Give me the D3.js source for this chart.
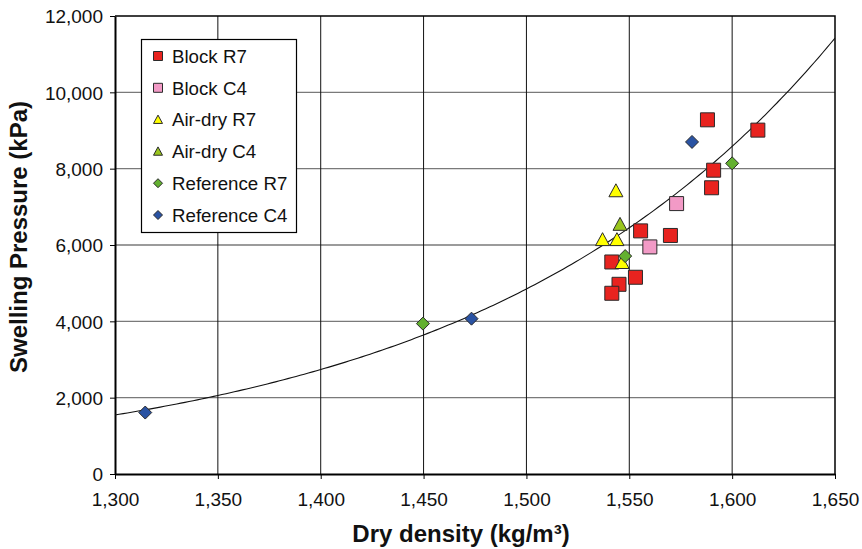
<!DOCTYPE html>
<html>
<head>
<meta charset="utf-8">
<script src="https://cdn.jsdelivr.net/npm/d3@7/dist/d3.min.js"></script>
<style>
  html, body { margin: 0; padding: 0; background: #fff; }
  svg { display: block; font-family: "Liberation Sans", Arial, sans-serif; }
</style>
</head>
<body>
<svg id="chart" width="862" height="549"></svg>
<script>
// Swelling pressure vs dry density, by specimen type
const blockR7 = [
  [1588, 9280], [1612.5, 9010], [1591, 7960], [1590, 7500], [1555.5, 6370],
  [1570, 6250], [1541.5, 5555], [1553, 5155], [1545, 4970], [1541.5, 4735]
];
const blockC4 = [[1573, 7085], [1560, 5950]];
const airDryR7 = [[1543.5, 7420], [1537, 6140], [1544, 6140], [1546.5, 5540]];
const airDryC4 = [[1545.5, 6540]];
const referenceR7 = [[1548, 5710], [1600, 8140], [1449.7, 3940]];
const referenceC4 = [[1580.5, 8700], [1473.3, 4070], [1314.7, 1610]];

// Exponential trend line: y = trendA * exp(trendB * (x - 1300))
const trendA = 1546;
const trendB = 0.005714;

const xTicks = [1300, 1350, 1400, 1450, 1500, 1550, 1600, 1650];
const yTicks = [0, 2000, 4000, 6000, 8000, 10000, 12000];

const series = [
  { name: "Block R7", data: blockR7, shape: "square", fill: "#e8231f", size: 14 },
  { name: "Block C4", data: blockC4, shape: "square", fill: "#f29ac6", size: 14 },
  { name: "Air-dry R7", data: airDryR7, shape: "triangle", fill: "#ffff00", size: 14 },
  { name: "Air-dry C4", data: airDryC4, shape: "triangle", fill: "#9ac61e", size: 14 },
  { name: "Reference R7", data: referenceR7, shape: "diamond", fill: "#63b030", size: 13 },
  { name: "Reference C4", data: referenceC4, shape: "diamond", fill: "#2a53a3", size: 13 }
];

const svg = d3.select("#chart");
const plot = { left: 115, right: 835, top: 16, bottom: 474 };

const x = d3.scaleLinear().domain([1300, 1650]).range([plot.left, plot.right]);
const y = d3.scaleLinear().domain([0, 12000]).range([plot.bottom, plot.top]);
const fmt = d3.format(",");

// Marker path generator for a given shape and overall size
function markerPath(shape, s) {
  const h = s / 2;
  if (shape === "square") return `M${-h},${-h}H${h}V${h}H${-h}Z`;
  if (shape === "triangle") return `M0,${-h}L${h},${h * 0.85}L${-h},${h * 0.85}Z`;
  return `M0,${-h}L${h},0L0,${h}L${-h},0Z`;
}

// Gridlines
const grid = svg.append("g");
grid.selectAll("line.h").data(yTicks.slice(1, -1)).join("line")
  .attr("x1", plot.left).attr("x2", plot.right)
  .attr("y1", d => y(d)).attr("y2", d => y(d))
  .attr("stroke", "#7a7a7a").attr("stroke-width", 1.3);
grid.selectAll("line.v").data(xTicks.slice(1, -1)).join("line")
  .attr("x1", d => x(d)).attr("x2", d => x(d))
  .attr("y1", plot.top).attr("y2", plot.bottom)
  .attr("stroke", "#111").attr("stroke-width", 1);

// Plot border (top and right)
svg.append("path")
  .attr("d", `M${plot.left},${plot.top}H${plot.right}V${plot.bottom}`)
  .attr("fill", "none").attr("stroke", "#000").attr("stroke-width", 1.5);

// Axes
const xAxis = svg.append("g").attr("transform", `translate(0,${plot.bottom})`)
  .call(d3.axisBottom(x).tickValues(xTicks).tickFormat(fmt).tickSize(5).tickSizeOuter(0));
const yAxis = svg.append("g").attr("transform", `translate(${plot.left},0)`)
  .call(d3.axisLeft(y).tickValues(yTicks).tickFormat(fmt).tickSize(5).tickSizeOuter(0));

[xAxis, yAxis].forEach(g => {
  g.select(".domain").attr("stroke", "#000").attr("stroke-width", 2);
  g.selectAll(".tick line").attr("stroke", "#000").attr("stroke-width", 1);
  g.selectAll(".tick text").attr("fill", "#111")
    .style("font-size", "19px").style("font-family", "'Liberation Sans', Arial, sans-serif");
});
xAxis.selectAll(".tick text").attr("dy", 0).attr("y", 32);
yAxis.selectAll(".tick text").attr("x", -12).attr("dy", "0.36em");

// Trend line
svg.append("clipPath").attr("id", "plotClip")
  .append("rect").attr("x", plot.left).attr("y", plot.top)
  .attr("width", plot.right - plot.left).attr("height", plot.bottom - plot.top);
const trendX = d3.range(1300, 1650.5, 2);
svg.append("path")
  .attr("clip-path", "url(#plotClip)")
  .datum(trendX)
  .attr("fill", "none").attr("stroke", "#111").attr("stroke-width", 1.1)
  .attr("d", d3.line().x(d => x(d)).y(d => y(trendA * Math.exp(trendB * (d - 1300)))));

// Data markers
series.forEach(s => {
  svg.append("g").selectAll("path").data(s.data).join("path")
    .attr("transform", d => `translate(${x(d[0])},${y(d[1])})`)
    .attr("d", markerPath(s.shape, s.size))
    .attr("fill", s.fill).attr("stroke", "#2a2a2a").attr("stroke-width", 1);
});

// Legend
const legend = svg.append("g");
legend.append("rect")
  .attr("x", 141.5).attr("y", 39.5).attr("width", 155).attr("height", 193)
  .attr("fill", "#fff").attr("stroke", "#000").attr("stroke-width", 1.2);
series.forEach((s, i) => {
  const cy = 56 + i * 31.8;
  legend.append("path")
    .attr("transform", `translate(158,${cy})`)
    .attr("d", markerPath(s.shape, 9))
    .attr("fill", s.fill).attr("stroke", "#2a2a2a").attr("stroke-width", 1);
  legend.append("text")
    .attr("x", 172).attr("y", cy).attr("dy", "0.36em")
    .attr("fill", "#111").style("font-size", "18.7px")
    .text(s.name);
});

// Axis titles
svg.append("text")
  .attr("x", 461).attr("y", 542)
  .attr("text-anchor", "middle").attr("fill", "#111")
  .style("font-size", "24px").style("font-weight", "bold")
  .text("Dry density (kg/m\u00B3)");
svg.append("text")
  .attr("transform", "translate(27,237) rotate(-90)")
  .attr("text-anchor", "middle").attr("fill", "#111")
  .style("font-size", "24px").style("font-weight", "bold")
  .text("Swelling Pressure (kPa)");
</script>
</body>
</html>
